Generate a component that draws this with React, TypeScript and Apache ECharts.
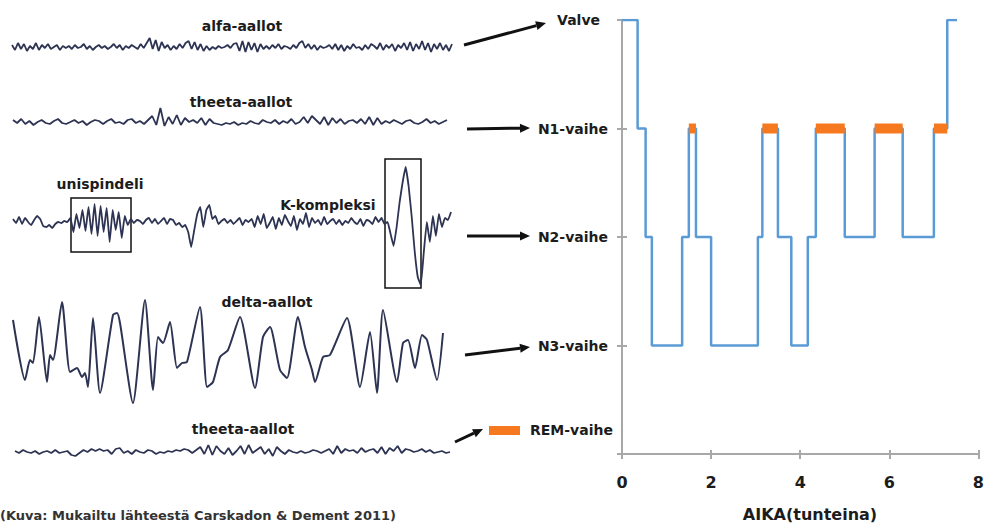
import React, { useEffect, useRef } from "react";
import * as echarts from "echarts";

// ---- Hypnogram data (hours, stage level: 4=Valve, 3=N1, 2=N2, 1=N3) ----
const stageTimes = [0, 0.35, 0.53, 0.67, 1.35, 1.5, 1.66, 2.0, 3.05, 3.15, 3.5, 3.8, 4.17, 4.35, 5.0, 5.67, 6.3, 7.0, 7.3, 7.52];
const stageLevels = [4, 3, 2, 1, 2, 3, 2, 1, 2, 3, 2, 1, 2, 3, 2, 3, 2, 3, 4, 4];
const remStarts = [1.5, 3.15, 4.35, 5.67, 7.0];
const remEnds = [1.66, 3.5, 5.0, 6.3, 7.3];
const stageLabels = ["", "N3-vaihe", "N2-vaihe", "N1-vaihe", "Valve"];
const hourTicks = [0, 2, 4, 6, 8];

// ---- EEG traces (relative amplitude, uniform samples) ----
const alfaWave = [
  2, -3, 4, -2, 3, -4, 1, -2, 4, -3, 2, -1, 3, -2, 0, 2, -3, 1,
  -1, 1, -2, 2, -1, 0, 3, -2, 1, -3, 0, 2, -1, 1, -2, 0, 3, -1, 2, -3, 1, -1, 2, 0, -2, 3, -1,
  4, 9, -2, 7, -4, 5, -1,
  2, -3, 1, -2, 3, -1, 4, 6, -2, 5, -3, 3, -4, 1, -3, 0, -2, 1, -1, 0, 2, -1, 3,
  4, -4, 6, -5, 5, -3, 4, -5, 3, -2,
  1, -2, 2, -1, 3, -2, 1, 0, -2, 2, -1, 4, 6, -1, 3, -2, 2, -3, 1, -1, 0, 2, -2,
  3, -3, 2, -4, 1, -2, 3, -1, 0, -3, 2, -2, 3, 1, -2, 4, -3, 2, -1, 3, -4, 2, -1,
  4, -3, 5, -4, 3, -2, 6, -3, 4, -5, 3, -2, 4, -3, 2, -4, 3,
];
const theeta1Wave = [
  2, -1, 3, -2, 1, -3, 0, 2, -1, -2, 1, 3, -1, -2, 0, 2, -1, 1, -3, 0, 2, 1, -2, 1, 3, -1, 0, -2, 2, 3, -1, 1, -2, 2,
  6, -3, 14, -4, 5, -2, 7, -3, 4, 0,
  2, -1, 4, -3, 3, -1, -2, -3, -1, -2, 0, -3, -1, -2, 1, -1, -2, 2, 0, -1, 2, -2, 1, -1, 3, -2, 0,
  5, -1, 6, 2, -2, 5, -3, 4, -1, 3, -2, 1,
  2, -1, 3, -2, 5, -3, 4, -2, 1, -1, 2, 0, -2, 1, 2, -1, -2, 0, 3, -1, 1, -2, 0, 2,
];
const n2Wave = [
  3, -1, 5, -2, 4, 0, -3, 2, 6, 3, -4, -5, -3, -6, -2, 0, -1, 1, 0,
  4, -10, 8, -6, 12, -9, 15, -12, 18, -14, 16, -10, 14, -20, 12, -8, 10, -16, 6, -3,
  3, -1, 2, 1, -2, 2, 4, -1, 3, -2, 1, 4, -2, 3, 2, -3, -1, -5, -3, -10,
  -25, -8, 8, 15, -5, 12, 17, 3, 6, -2, 1, 3, -1, 2, -2, 1, 4, -3, 2, 0,
  3, -5, 6, -2, 8, -6, -1, 5, -7, 4, -3, 7, 1, -4, 6, -8, 3, -2, 9, -5, 4, -1, 2, -3, 5, -2, 1, 3, -2, 2,
  -3, 1, -1, 4, 0, -2, 3, -4, 2, 1, -2, 5, 0, 4, -2,
  0, -12, -24, -5, 20, 40, 55, 35, 5, -30, -55, -63,
  -30, 0, -20, 6, -14, 8, -5, 4, 2, 10,
];
const deltaTimes = [0, 12, 17, 20, 26, 34, 37, 40, 49, 57, 64, 69, 72, 75, 80, 87, 100, 104, 107, 120, 132, 140, 145, 150, 157, 164, 169, 174, 187, 194, 200, 207, 215, 227, 242, 250, 257, 267, 274, 285, 292, 299, 302, 310, 317, 334, 347, 357, 364, 370, 384, 390, 395, 402, 409, 414, 424, 430];
const deltaValues = [30, -30, -10, -13, 33, -32, -5, -10, 48, -22, -18, -27, -23, -37, 32, -43, 35, 37, 27, -53, 50, -40, 13, 7, 28, -18, -13, -12, 43, -37, -32, -7, 0, 33, -38, 13, 23, -20, -28, 33, 3, -20, -32, -7, -5, 32, -37, 18, -43, 40, -32, 7, 10, -18, 15, 10, -30, 17];
const theeta2Wave = [
  1, -1, 2, 0, -1, 1, -2, 0, 1, -1, 2, -1, 0, 1, -3, -4, -1, 2, 0, 3, 1,
  3, 1, 2, -2, 3, 4, -1, 1, -2, 2, 0, -1, 2, 1, -2, 0, -1, 1, 0, 2, 1, 3, 2, -1, 2,
  5, -2, 7, -3, 6, 1, -2, 4, -3, 1, 6, -2, 7, -1, 2,
  5, -2, 3, -4, 5, 1, -2, 2, 0, -1, 1, -1, 0, 2, 1,
  -1, 1, 3, -2, 6, -1, 3, 1, 2, -1, 4, 0, 2, 3, -1, 5, -2, 4, 1, 6, -1, 3, 2, 0, 1,
  3, 0, 2, -1, 0, 1, -1, 0,
];

const FONT = "DejaVu Sans";
const INK = "#1c1c1c";
const WAVE = "#2d3352";

export default function App() {
  const ref = useRef<HTMLDivElement>(null);
  useEffect(() => {
    document.body.style.margin = "0";
    const chart = echarts.init(ref.current!, undefined, { renderer: "svg" });

    const panels = [
      { left: 12, width: 440, cy: 47, a: 12, xMax: alfaWave.length - 1 },
      { left: 13, width: 434, cy: 122, a: 16, xMax: theeta1Wave.length - 1 },
      { left: 13, width: 438, cy: 222, a: 65, xMax: n2Wave.length - 1 },
      { left: 13, width: 430, cy: 350, a: 60, xMax: 430 },
      { left: 15, width: 435, cy: 452, a: 10, xMax: theeta2Wave.length - 1 },
    ];
    const waveData = [
      alfaWave.map((v, i) => [i, v]),
      theeta1Wave.map((v, i) => [i, v]),
      n2Wave.map((v, i) => [i, v]),
      deltaTimes.map((t, i) => [t, deltaValues[i]]),
      theeta2Wave.map((v, i) => [i, v]),
    ];

    const grids: any[] = [{ left: 622, right: 4, top: 20, bottom: 71 }];
    const xAxes: any[] = [
      {
        type: "value", gridIndex: 0, min: 0, max: 8, interval: 2,
        axisLine: { lineStyle: { color: "#a8a8a8", width: 2 } },
        axisTick: { show: true, length: 5, lineStyle: { color: "#a8a8a8", width: 2 } },
        axisLabel: { color: INK, fontFamily: FONT, fontWeight: "bold", fontSize: 16, margin: 20, formatter: (v: number) => (hourTicks.includes(v) ? String(v) : "") },
        splitLine: { show: false },
      },
      {
        type: "value", gridIndex: 0, min: 0, max: 8, interval: 2, position: "bottom",
        axisLine: { show: false },
        axisTick: { show: true, inside: true, length: 4, lineStyle: { color: "#a8a8a8", width: 2 } },
        axisLabel: { show: false }, splitLine: { show: false },
      },
    ];
    const yAxes: any[] = [
      {
        type: "value", gridIndex: 0, min: 0, max: 4, interval: 1,
        axisLine: { show: true, lineStyle: { color: "#a8a8a8", width: 2 } },
        axisTick: { show: true, length: 5, lineStyle: { color: "#a8a8a8", width: 2 } },
        axisLabel: {
          color: INK, fontFamily: FONT, fontWeight: "bold", fontSize: 14, margin: 14,
          formatter: (v: number) => (v === 4 ? "{v|" + stageLabels[v] + "}" : stageLabels[v] || ""),
          rich: { v: { color: INK, fontFamily: FONT, fontWeight: "bold", fontSize: 14, padding: [0, 8, 0, 0] } },
        },
        splitLine: { show: false },
      },
      {
        type: "value", gridIndex: 0, min: 0, max: 4, interval: 1, position: "left",
        axisLine: { show: false },
        axisTick: { show: true, inside: true, length: 5, lineStyle: { color: "#a8a8a8", width: 2 } },
        axisLabel: { show: false }, splitLine: { show: false },
      },
    ];
    panels.forEach((p, k) => {
      grids.push({ left: p.left, width: p.width, top: p.cy - p.a, height: p.a * 2 });
      xAxes.push({ type: "value", gridIndex: k + 1, min: 0, max: p.xMax, show: false });
      yAxes.push({ type: "value", gridIndex: k + 1, min: -p.a, max: p.a, show: false });
    });

    const series: any[] = [
      {
        type: "line", xAxisIndex: 0, yAxisIndex: 0, step: "end", symbol: "none",
        data: stageTimes.map((t, i) => [t, stageLevels[i]]),
        lineStyle: { color: "#5b9bd5", width: 2.5 }, z: 3,
      },
      ...remStarts.map((s, i) => ({
        type: "line", xAxisIndex: 0, yAxisIndex: 0, symbol: "none",
        data: [[s, 3], [remEnds[i], 3]],
        lineStyle: { color: "#f7791f", width: 10, cap: "butt" }, z: 4,
      })),
      ...waveData.map((d, k) => ({
        type: "line", xAxisIndex: k + 2, yAxisIndex: k + 2, symbol: "none",
        data: d, smooth: k === 3 ? 0.2 : k === 2 ? 0.1 : false,
        lineStyle: { color: WAVE, width: k === 3 ? 2 : 1.8 },
      })),
    ];

    const arrows = [
      [464, 45, 546, 23],
      [467, 129, 530, 128],
      [467, 236, 530, 236],
      [465, 355, 530, 347],
      [455, 442, 483, 429],
    ];
    const arrowEls: any[] = [];
    arrows.forEach(([x1, y1, x2, y2]) => {
      const dx = x2 - x1, dy = y2 - y1, len = Math.hypot(dx, dy);
      const ux = dx / len, uy = dy / len, hl = 10, hw = 4.5;
      const bx = x2 - ux * hl, by = y2 - uy * hl;
      arrowEls.push({ type: "line", shape: { x1, y1, x2: bx, y2: by }, style: { stroke: "#111", lineWidth: 3 } });
      arrowEls.push({ type: "polygon", shape: { points: [[x2, y2], [bx - uy * hw, by + ux * hw], [bx + uy * hw, by - ux * hw]] }, style: { fill: "#111" } });
    });

    const lbl = (text: string, x: number, y: number, size = 14, align = "center") => ({
      type: "text", x, y,
      style: { text, fill: INK, font: `bold ${size}px "${FONT}"`, textAlign: align, textVerticalAlign: "middle" },
    });

    chart.setOption({
      animation: false,
      backgroundColor: "#ffffff",
      grid: grids,
      xAxis: xAxes,
      yAxis: yAxes,
      series,
      graphic: [
        lbl("alfa-aallot", 242, 26),
        lbl("theeta-aallot", 241, 102),
        lbl("unispindeli", 100, 184),
        lbl("K-kompleksi", 328, 205),
        lbl("delta-aallot", 267, 302),
        lbl("theeta-aallot", 243, 429),
        { type: "rect", shape: { x: 71, y: 198, width: 60, height: 54 }, style: { fill: "none", stroke: "#111", lineWidth: 1.5 } },
        { type: "rect", shape: { x: 385, y: 159, width: 36, height: 129 }, style: { fill: "none", stroke: "#111", lineWidth: 1.5 } },
        ...arrowEls,
        { type: "rect", shape: { x: 489, y: 426, width: 31, height: 9 }, style: { fill: "#f7791f" } },
        lbl("REM-vaihe", 530, 430, 14, "left"),
        lbl("AIKA(tunteina)", 810, 514, 16),
        {
          type: "text", x: 0, y: 509,
          style: { text: "(Kuva: Mukailtu lähteestä Carskadon & Dement 2011)", fill: "#333", font: `bold 13px "${FONT}"`, textAlign: "left", textVerticalAlign: "top" },
        },
      ],
    });
    return () => chart.dispose();
  }, []);
  return <div ref={ref} style={{ position: "absolute", left: 0, top: 0, width: 987, height: 525 }} />;
}
